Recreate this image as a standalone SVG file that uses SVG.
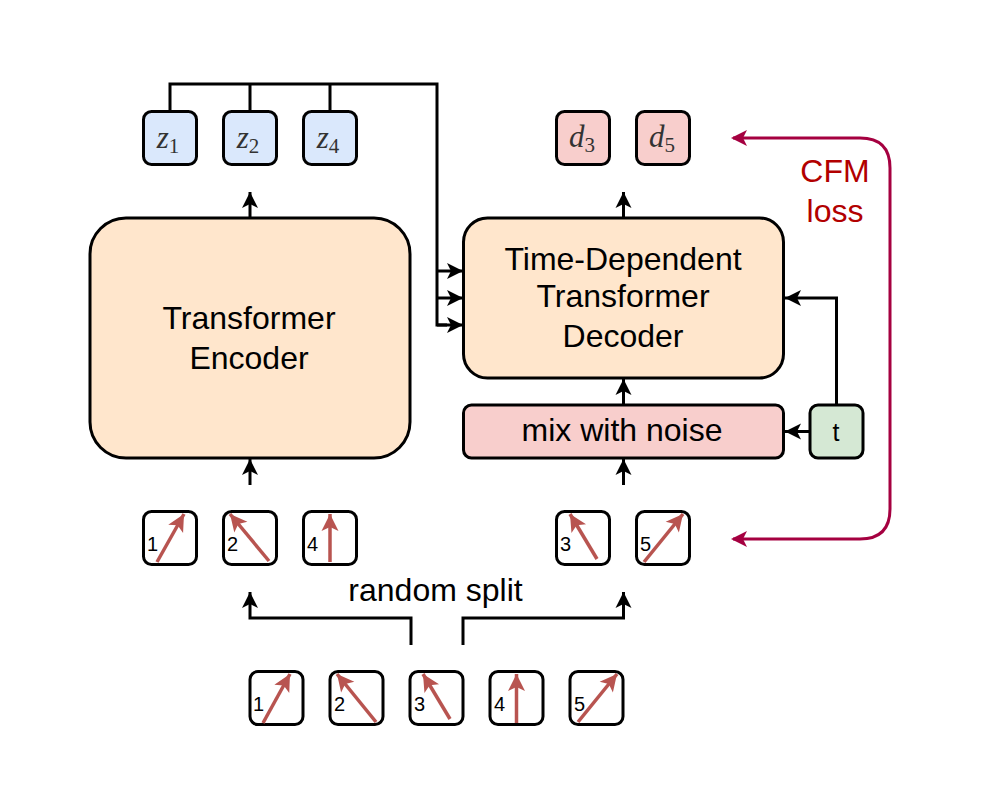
<svg xmlns="http://www.w3.org/2000/svg" width="996" height="811" viewBox="0 0 996 811">
<style>
.b{stroke:#000;stroke-width:3}
.sq{fill:#fff}
.lat{fill:#dae8fc}
.red{fill:#f8cecc}
.org{fill:#ffe6cc}
.grn{fill:#d5e8d4}
text{font-family:"Liberation Sans",Arial,sans-serif;fill:#000}
.big{font-size:32px;text-anchor:middle}
.n{font-size:20px}
.m{font-family:"Liberation Serif","Times New Roman",serif;font-style:italic;font-size:31px;fill:#333;text-anchor:middle}
.m tspan{font-style:normal;font-size:21px}
.loss{fill:#b20000}
.c{fill:none;stroke:#000;stroke-width:3}
.v{fill:none;stroke:#b85450;stroke-width:3.500}
.l{fill:none;stroke:#a50040;stroke-width:3}
</style>
<defs>
<marker id="ah" markerUnits="userSpaceOnUse" markerWidth="18" markerHeight="18" refX="16" refY="8" orient="auto" overflow="visible"><path d="M0,0L16,8L0,16L4,8Z" fill="#000"/></marker>
<marker id="av" markerUnits="userSpaceOnUse" markerWidth="20" markerHeight="20" refX="17" refY="8.500" orient="auto" overflow="visible"><path d="M0,0L17,8.500L0,17L4,8.500Z" fill="#b85450"/></marker>
</defs>
<g id="connectors">
<path class="c" d="M170,111V84H437V325H447"/>
<path class="c" d="M250,111V84M330,111V84"/>
<path class="c" marker-end="url(#ah)" d="M437,325H463"/>
<path class="c" marker-end="url(#ah)" d="M437,271H463"/>
<path class="c" marker-end="url(#ah)" d="M437,298H463"/>
<path class="c" marker-end="url(#ah)" d="M250,218V192"/>
<path class="c" marker-end="url(#ah)" d="M623.500,218V192"/>
<path class="c" marker-end="url(#ah)" d="M623.500,405V379"/>
<path class="c" marker-end="url(#ah)" d="M623.500,485V459"/>
<path class="c" marker-end="url(#ah)" d="M250,485V459"/>
<path class="c" marker-end="url(#ah)" d="M810,431.500H785"/>
<path class="c" marker-end="url(#ah)" d="M836.500,405V298H785"/>
<path class="c" marker-end="url(#ah)" d="M411,645V618H250V592"/>
<path class="c" marker-end="url(#ah)" d="M463,645V618H623.500V592"/>
<path class="l" d="M890,300V168Q890,138 860,138H733"/>
<path class="l" d="M890,300V509Q890,539 860,539H733"/>
<path d="M731,138L747,130L743,138L747,146Z" fill="#a50040"/>
<path d="M731,539L747,531L743,539L747,547Z" fill="#a50040"/>
</g>
<g id="z1"><rect class="b lat" x="143.500" y="111.500" width="53" height="53" rx="8"/><text class="m" x="168" y="148">z<tspan dy="5">1</tspan></text></g>
<g id="z2"><rect class="b lat" x="223.500" y="111.500" width="53" height="53" rx="8"/><text class="m" x="248" y="148">z<tspan dy="5">2</tspan></text></g>
<g id="z4"><rect class="b lat" x="303.500" y="111.500" width="53" height="53" rx="8"/><text class="m" x="328" y="148">z<tspan dy="5">4</tspan></text></g>
<g id="d3"><rect class="b red" x="556.500" y="111.500" width="53" height="53" rx="8"/><text class="m" x="582" y="147">d<tspan dy="5">3</tspan></text></g>
<g id="d5"><rect class="b red" x="636.500" y="111.500" width="53" height="53" rx="8"/><text class="m" x="662" y="147">d<tspan dy="5">5</tspan></text></g>
<g id="encoder"><rect class="b org" x="90" y="218" width="320" height="240" rx="36"/><text class="big" x="249" y="329">Transformer</text><text class="big" x="249" y="369">Encoder</text></g>
<g id="decoder"><rect class="b org" x="463.500" y="218" width="320" height="160" rx="24"/><text class="big" x="623" y="270">Time-Dependent</text><text class="big" x="623" y="307">Transformer</text><text class="big" x="623" y="347">Decoder</text></g>
<g id="mix"><rect class="b red" x="463.500" y="405" width="320" height="53" rx="8"/><text class="big" x="622" y="441">mix with noise</text></g>
<g id="t"><rect class="b grn" x="810" y="405" width="53" height="53" rx="8"/><text class="big" x="836" y="441" style="font-size:25px">t</text></g>
<g id="loss"><text class="big loss" x="835" y="182">CFM</text><text class="big loss" x="835" y="222">loss</text></g>
<g id="split"><text class="big" x="435.500" y="601">random split</text></g>
<g id="s1"><rect class="b sq" x="143.500" y="511.500" width="53" height="53" rx="8"/><path class="v" marker-end="url(#av)" d="M157,562L184,514"/><text class="n" x="147" y="551">1</text></g>
<g id="s2"><rect class="b sq" x="223.500" y="511.500" width="53" height="53" rx="8"/><path class="v" marker-end="url(#av)" d="M269,561L230,514"/><text class="n" x="227" y="551">2</text></g>
<g id="s4"><rect class="b sq" x="303.500" y="511.500" width="53" height="53" rx="8"/><path class="v" marker-end="url(#av)" d="M330,562V514"/><text class="n" x="307" y="551">4</text></g>
<g id="s3"><rect class="b sq" x="556.500" y="511.500" width="53" height="53" rx="8"/><path class="v" marker-end="url(#av)" d="M597,559L570,514"/><text class="n" x="560" y="551">3</text></g>
<g id="s5"><rect class="b sq" x="636.500" y="511.500" width="53" height="53" rx="8"/><path class="v" marker-end="url(#av)" d="M644,562L683,514"/><text class="n" x="640" y="551">5</text></g>
<g id="a1"><rect class="b sq" x="250" y="671.500" width="53" height="53" rx="8"/><path class="v" marker-end="url(#av)" d="M263,723L290,674"/><text class="n" x="253" y="711">1</text></g>
<g id="a2"><rect class="b sq" x="330" y="671.500" width="53" height="53" rx="8"/><path class="v" marker-end="url(#av)" d="M376,722L337,674"/><text class="n" x="334" y="711">2</text></g>
<g id="a3"><rect class="b sq" x="410" y="671.500" width="53" height="53" rx="8"/><path class="v" marker-end="url(#av)" d="M450,719L423,674"/><text class="n" x="414" y="711">3</text></g>
<g id="a4"><rect class="b sq" x="490" y="671.500" width="53" height="53" rx="8"/><path class="v" marker-end="url(#av)" d="M516.500,723V674"/><text class="n" x="494" y="711">4</text></g>
<g id="a5"><rect class="b sq" x="570" y="671.500" width="53" height="53" rx="8"/><path class="v" marker-end="url(#av)" d="M578,722L617,674"/><text class="n" x="574" y="711">5</text></g>
</svg>
